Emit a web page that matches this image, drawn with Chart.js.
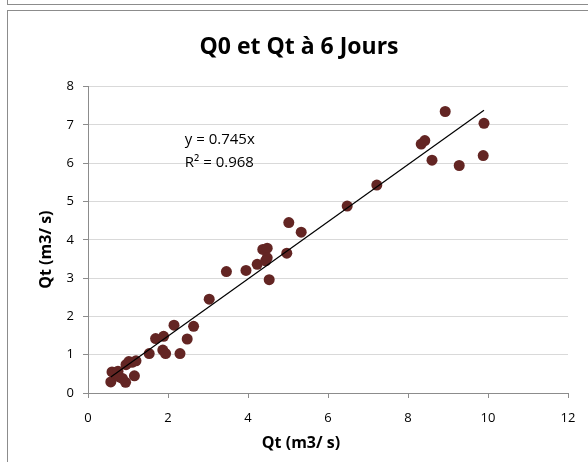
<!DOCTYPE html>
<html>
<head>
<meta charset="utf-8">
<script src="https://cdn.jsdelivr.net/npm/chart.js@4/dist/chart.umd.min.js"></script>
<style>
  html, body { margin: 0; padding: 0; background: #fff; }
  #wrap { position: relative; width: 588px; height: 462px; overflow: hidden; }
  #prevFrame { position: absolute; left: 7px; top: -2px; width: 600px; height: 6px; border-left: 1px solid #8c8c8c; border-bottom: 1px solid #8c8c8c; }
  #frame { position: absolute; left: 7px; top: 10px; width: 600px; height: 470px; border-left: 1px solid #8c8c8c; border-top: 1px solid #8c8c8c; }
  canvas { position: absolute; left: 0; top: 0; }
</style>
</head>
<body>
<div id="wrap">
  <div id="prevFrame"></div>
  <div id="frame"></div>
  <canvas id="chart" width="588" height="462"></canvas>
</div>
<script>
// Q0 (x) against Qt after 6 days (y), m3/s
const q0Values = [
  0.57, 0.94, 1.16, 0.66, 0.60, 0.75, 0.78, 0.86, 0.95, 1.02, 1.10, 1.20,
  1.53, 1.69, 1.89, 1.87, 1.94, 2.30, 2.15, 2.64, 2.48, 3.03,
  3.46, 3.95, 4.23, 4.37, 4.48, 4.48, 4.44, 4.53, 4.97, 5.02, 5.33,
  6.48, 7.22, 8.33, 8.42, 8.60, 8.93, 9.28, 9.90, 9.88
];
const qtValues = [
  0.29, 0.28, 0.45, 0.52, 0.55, 0.57, 0.42, 0.38, 0.74, 0.82, 0.80, 0.84,
  1.03, 1.42, 1.48, 1.12, 1.03, 1.03, 1.77, 1.74, 1.41, 2.45,
  3.17, 3.20, 3.36, 3.75, 3.78, 3.53, 3.45, 2.96, 3.65, 4.45, 4.20,
  4.88, 5.43, 6.50, 6.59, 6.08, 7.35, 5.94, 7.04, 6.20
];

// linear trendline through origin, as drawn on the picture (ends)
const trendX = [0.57, 9.90];
const trendY = [0.42, 7.38];
const trendLabel = ['y = 0.745x', 'R\u00b2 = 0.968'];

const xTicks = [0, 2, 4, 6, 8, 10, 12];
const yTicks = [0, 1, 2, 3, 4, 5, 6, 7, 8];

const chartTitle = 'Q0 et Qt \u00e0 6 Jours';
const xTitle = 'Qt (m3/ s)';
const yTitle = 'Qt (m3/ s)';

const FONT = '"Open Sans", Lato, sans-serif';
const POINT_COLOR = '#632523';

const scatterPoints = q0Values.map((x, i) => ({ x: x, y: qtValues[i] }));
const trendPoints = trendX.map((x, i) => ({ x: x, y: trendY[i] }));

// equation text + axis titles (Excel had them nudged off-centre)
const textPlugin = {
    id: 'extraText',
    afterDraw(chart) {
        const { ctx, scales, chartArea } = chart;
        ctx.save();
        ctx.fillStyle = '#000';

        ctx.font = '15px ' + FONT;
        ctx.textAlign = 'left';
        ctx.textBaseline = 'middle';
        const px = scales.x.getPixelForValue(2.42);
        const py = scales.y.getPixelForValue(6.61);
        trendLabel.forEach((t, i) => ctx.fillText(t, px, py + i * 23));

        ctx.font = 'bold 16px ' + FONT;
        ctx.textAlign = 'center';
        ctx.fillText(xTitle, chartArea.left + 213, 443);

        ctx.translate(46, chartArea.top + 163);
        ctx.rotate(-Math.PI / 2);
        ctx.fillText(yTitle, 0, 0);
        ctx.restore();
    }
};

new Chart(document.getElementById('chart'), {
    type: 'scatter',
    data: {
        datasets: [{
            label: 'trend',
            type: 'line',
            data: trendPoints,
            borderColor: '#000',
            borderWidth: 1.2,
            pointRadius: 0,
            fill: false
        }, {
            label: 'Qt',
            data: scatterPoints,
            backgroundColor: POINT_COLOR,
            borderColor: POINT_COLOR,
            pointRadius: 5.5,
            pointBorderWidth: 0
        }]
    },
    options: {
        responsive: false,
        animation: false,
        layout: { padding: { left: 30, right: 20, top: 10, bottom: 10 } },
        plugins: {
            legend: { display: false },
            tooltip: { enabled: false },
            title: {
                display: true,
                text: chartTitle,
                color: '#000',
                font: { family: FONT, size: 23, weight: 'bold' },
                padding: { top: 24, bottom: 25 }
            }
        },
        scales: {
            x: {
                type: 'linear',
                min: 0,
                max: 12,
                afterBuildTicks: (s) => { s.ticks = xTicks.map(v => ({ value: v })); },
                afterFit: (s) => { s.height = 59; },
                border: { color: '#8c8c8c', width: 1 },
                grid: { drawOnChartArea: false, drawTicks: true, tickLength: 5, tickColor: '#8c8c8c' },
                ticks: { color: '#000', padding: 12, font: { family: FONT, size: 13 } },
                title: { display: false }
            },
            y: {
                type: 'linear',
                min: 0,
                max: 8,
                afterBuildTicks: (s) => { s.ticks = yTicks.map(v => ({ value: v })); },
                afterFit: (s) => { s.width = 58; },
                border: { color: '#8c8c8c', width: 1 },
                grid: { color: '#d9d9d9', lineWidth: 1, drawTicks: true, tickLength: 5, tickColor: '#8c8c8c' },
                ticks: { color: '#000', padding: 9, font: { family: FONT, size: 13 } },
                title: { display: false }
            }
        }
    },
    plugins: [textPlugin]
});
</script>
</body>
</html>
